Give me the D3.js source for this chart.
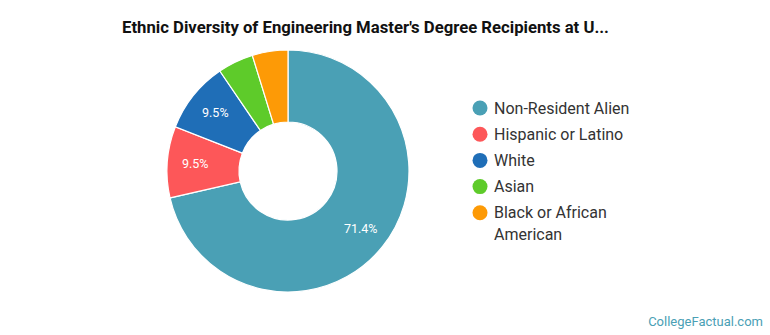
<!DOCTYPE html>
<html><head><meta charset="utf-8">
<script src="https://cdn.jsdelivr.net/npm/d3@7"></script>
<style>body{margin:0;background:#fff;font-family:Roboto,"Open Sans",sans-serif;}</style>
</head><body><svg id="c" width="770" height="335"></svg>
<script>
const categories = ["Non-Resident Alien","Hispanic or Latino","White","Asian","Black or African American"];
const counts = [15, 2, 2, 1, 1];
const colors = ["#4aa0b5","#fd5759","#1f6eb7","#5ecb2a","#fd9a06"];
const titleText = "Ethnic Diversity of Engineering Master's Degree Recipients at U...";

const svg = d3.select("#c");
const total = d3.sum(counts);
const data = categories.map((c,i)=>({cat:c, v:counts[i], col:colors[i]}));
const cx = 288, cy = 171, rO = 121, rI = 49;
const pie = d3.pie().value(d=>d.v).sort(null);
const arc = d3.arc().innerRadius(rI).outerRadius(rO);
const lab = d3.arc().innerRadius(93).outerRadius(93);
const g = svg.append("g").attr("transform",`translate(${cx},${cy})`);
const arcs = pie(data);
g.selectAll("path").data(arcs).join("path").attr("d",arc)
  .attr("fill",d=>d.data.col).attr("stroke","#fff").attr("stroke-width",1.2);
g.selectAll("text").data(arcs.filter(d=>d.data.v/total>0.06)).join("text")
  .attr("transform",d=>`translate(${lab.centroid(d)})`)
  .attr("text-anchor","middle").attr("dy","0.35em")
  .attr("fill","#fff").attr("font-size",12.5)
  .text(d=>(d.data.v/total*100).toFixed(1)+"%");

svg.append("text").attr("x",365.5).attr("y",33).attr("text-anchor","middle")
  .attr("font-weight","bold").attr("font-size",16.7).attr("fill","#111").text(titleText);

const lg = svg.append("g");
const lines = [["Non-Resident Alien"],["Hispanic or Latino"],["White"],["Asian"],["Black or African","American"]];
data.forEach((d,i)=>{
  const y = 108 + i*26.2;
  lg.append("circle").attr("cx",480).attr("cy",y).attr("r",7.5).attr("fill",d.col);
  const t = lg.append("text").attr("x",494).attr("y",y)
    .attr("font-size",16).attr("fill","#333");
  lines[i].forEach((s,j)=>t.append("tspan").attr("x",494).attr("dy", j===0?"0.35em":"1.38em").text(s));
});

svg.append("text").attr("x",763).attr("y",326).attr("text-anchor","end")
  .attr("font-size",13).attr("fill","#4aa0b5").text("CollegeFactual.com");
</script></body></html>
